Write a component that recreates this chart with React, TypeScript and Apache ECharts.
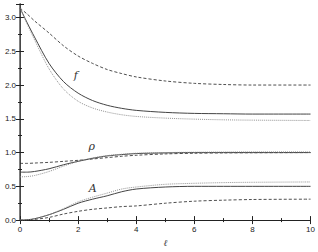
import React, { useEffect, useRef } from "react";
import * as echarts from "echarts";

const xs = [0, 0.25, 0.5, 1, 1.5, 2, 2.5, 3, 3.5, 4, 5, 6, 7, 8, 10];

const fSolid = [3.14, 2.92, 2.71, 2.32, 2.05, 1.88, 1.77, 1.7, 1.655, 1.625, 1.595, 1.58, 1.575, 1.57, 1.57];
const fDashed = [3.14, 3.05, 2.95, 2.77, 2.58, 2.43, 2.32, 2.23, 2.17, 2.12, 2.06, 2.025, 2.008, 2.0, 2.0];
const fDotted = [3.14, 2.9, 2.67, 2.24, 1.94, 1.76, 1.66, 1.6, 1.56, 1.535, 1.51, 1.495, 1.485, 1.48, 1.475];

const rSolid = [0.71, 0.71, 0.72, 0.76, 0.82, 0.87, 0.915, 0.95, 0.97, 0.985, 0.995, 1.0, 1.0, 1.0, 1.0];
const rDashed = [0.84, 0.84, 0.845, 0.855, 0.87, 0.885, 0.905, 0.925, 0.945, 0.96, 0.98, 0.99, 0.995, 0.997, 1.0];
const rDotted = [0.64, 0.645, 0.66, 0.72, 0.8, 0.87, 0.92, 0.955, 0.975, 0.99, 1.0, 1.005, 1.008, 1.01, 1.01];

const aSolid = [0, 0.005, 0.02, 0.08, 0.16, 0.25, 0.31, 0.36, 0.42, 0.46, 0.49, 0.5, 0.5, 0.5, 0.5];
const aDashed = [0, 0.002, 0.01, 0.04, 0.09, 0.13, 0.16, 0.18, 0.2, 0.21, 0.25, 0.28, 0.295, 0.305, 0.31];
const aDotted = [0, 0.005, 0.02, 0.08, 0.17, 0.27, 0.34, 0.4, 0.46, 0.49, 0.53, 0.545, 0.555, 0.56, 0.565];

const labelNames = ["f", "ρ", "A"];
const labelX = [1.92, 2.47, 2.5];
const labelY = [2.15, 1.1, 0.49];

const zip = (v: number[]) => xs.map((x, i) => [x, v[i]]);

const solidStyle = { color: "#444", width: 1, type: "solid" as const };
const dashedStyle = { color: "#222", width: 0.8, type: [3, 2] };
const dottedStyle = { color: "#888", width: 0.9, type: [1, 1] };

export default function App() {
  const ref = useRef<HTMLDivElement>(null);
  useEffect(() => {
    if (!ref.current) return;
    const chart = echarts.init(ref.current, undefined, { renderer: "svg" });
    const mk = (data: number[], style: any) => ({
      type: "line",
      data: zip(data),
      showSymbol: false,
      symbol: "none",
      smooth: 0.3,
      lineStyle: style,
      xAxisIndex: 0,
      yAxisIndex: 0,
      z: 2,
    });
    const axisLineStyle = { lineStyle: { color: "#222", width: 1 } };
    const tickCommon = { inside: true, length: 4, lineStyle: { color: "#222" } };
    const minorCommon = { show: true, splitNumber: 2, length: 2, lineStyle: { color: "#222" } };
    chart.setOption({
      animation: false,
      grid: { left: 20, right: 6, top: 4, bottom: 31, containLabel: false },
      xAxis: [
        {
          type: "value",
          min: 0,
          max: 10,
          interval: 2,
          position: "bottom",
          axisLine: axisLineStyle,
          axisTick: tickCommon,
          minorTick: minorCommon,
          splitLine: { show: false },
          axisLabel: { fontSize: 8, color: "#222", fontFamily: "Liberation Sans", margin: 5 },
          name: "ℓ",
          nameLocation: "middle",
          nameGap: 17,
          nameTextStyle: { fontFamily: "DejaVu Serif", fontStyle: "italic", fontSize: 9, color: "#333" },
        },
        {
          type: "value",
          min: 0,
          max: 10,
          interval: 2,
          position: "top",
          axisLine: axisLineStyle,
          axisTick: tickCommon,
          minorTick: minorCommon,
          splitLine: { show: false },
          axisLabel: { show: false },
        },
      ],
      yAxis: [
        {
          type: "value",
          min: 0,
          max: 3.2,
          interval: 0.5,
          position: "left",
          axisLine: { show: true, ...axisLineStyle },
          axisTick: tickCommon,
          minorTick: minorCommon,
          splitLine: { show: false },
          axisLabel: {
            fontSize: 8,
            color: "#222",
            fontFamily: "Liberation Sans",
            margin: 4,
            formatter: (v: number) => v.toFixed(1),
            showMaxLabel: false,
          },
        },
        {
          type: "value",
          min: 0,
          max: 3.2,
          interval: 0.5,
          position: "right",
          axisLine: { show: true, lineStyle: { color: "#555", width: 1.5 } },
          axisTick: tickCommon,
          minorTick: minorCommon,
          splitLine: { show: false },
          axisLabel: { show: false },
        },
      ],
      series: [
        mk(fDashed, dashedStyle),
        mk(fSolid, solidStyle),
        mk(fDotted, dottedStyle),
        mk(rDashed, dashedStyle),
        mk(rSolid, solidStyle),
        mk(rDotted, dottedStyle),
        mk(aDashed, dashedStyle),
        mk(aSolid, solidStyle),
        mk(aDotted, dottedStyle),
        {
          type: "scatter",
          symbol: "circle",
          symbolSize: 1,
          itemStyle: { color: "#ffffff", opacity: 0 },
          silent: true,
          z: 5,
          data: labelNames.map((n, i) => ({ name: n, value: [labelX[i], labelY[i]] })),
          label: {
            show: true,
            position: "top",
            distance: -7,
            formatter: (p: any) => p.name,
            fontFamily: "DejaVu Serif",
            fontStyle: "italic",
            fontSize: 11,
            color: "#333333",
            opacity: 1,
          },
        },
      ],
    });
    return () => chart.dispose();
  }, []);
  return (
    <div
      ref={ref}
      style={{ position: "absolute", left: 0, top: 0, width: 318, height: 252, background: "#fff" }}
    />
  );
}
